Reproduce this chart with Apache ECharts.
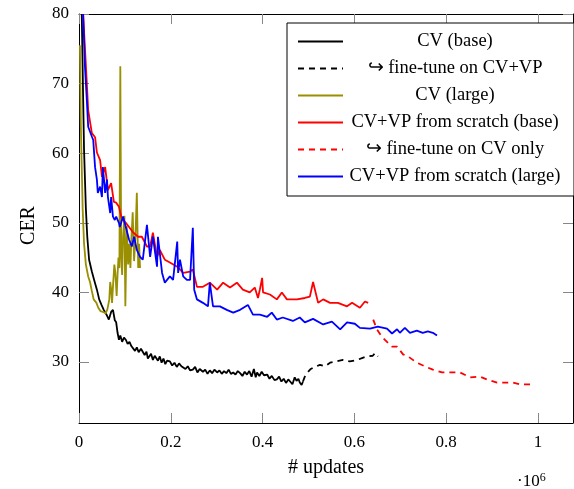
<!DOCTYPE html>
<html>
<head>
<meta charset="utf-8">
<script src="https://cdn.jsdelivr.net/npm/echarts@6/dist/echarts.min.js"></script>
<style>
html,body{margin:0;padding:0;background:#fff;}
#chart{width:574px;height:489px;}
</style>
</head>
<body>
<div id="chart"></div>
<script>
// x in units of 10^6 updates, y = CER
const xTicks = [0, 0.2, 0.4, 0.6, 0.8, 1];
const yTicks = [30, 40, 50, 60, 70, 80];

const cvBase = [
[0.006,80],[0.009,68],[0.011,60.5],[0.015,52],[0.018,48],[0.022,44.7],[0.028,43],[0.033,41.8],
[0.039,40.4],[0.044,39],[0.049,38.2],[0.054,37.5],[0.060,36.8],[0.065,36.1],[0.070,37.2],[0.074,37.5],
[0.078,36.0],[0.081,35.7],[0.084,34.2],[0.087,33.2],[0.090,33.8],[0.094,32.9],[0.098,33.5],[0.102,33.2],
[0.106,32.6],[0.110,32.9],[0.114,32.3],[0.118,32.2],[0.122,31.6],[0.126,32.1],[0.130,31.4],[0.135,31.9],
[0.139,31.8],[0.143,31.0],[0.147,31.5],[0.150,30.5],[0.153,30.8],[0.157,31.2],[0.161,30.3],[0.165,30.9],
[0.168,30.8],[0.172,30.2],[0.176,30.8],[0.180,29.9],[0.184,30.5],[0.188,29.7],[0.192,30.2],[0.198,30.1],
[0.203,29.5],[0.208,29.9],[0.213,29.3],[0.218,29.8],[0.223,29.4],[0.227,29.6],[0.232,29.0],[0.237,29.4],
[0.242,28.8],[0.248,28.9],[0.253,29.3],[0.258,28.5],[0.263,29.0],[0.270,28.6],[0.275,28.9],[0.280,28.3],
[0.285,28.8],[0.290,28.4],[0.295,28.9],[0.301,28.5],[0.306,28.8],[0.311,28.3],[0.316,28.7],[0.321,28.4],
[0.326,28.9],[0.331,28.3],[0.336,28.5],[0.341,28.2],[0.346,28.7],[0.351,28.4],[0.356,28.0],[0.361,28.6],
[0.366,28.2],[0.371,28.7],[0.376,27.9],[0.381,29.0],[0.385,27.8],[0.388,28.5],[0.393,28.0],[0.398,28.6],
[0.403,28.1],[0.410,28.2],[0.415,27.6],[0.420,28.0],[0.426,27.4],[0.431,27.5],[0.436,27.9],[0.441,27.2],
[0.446,27.6],[0.451,27.0],[0.456,27.5],[0.460,27.2],[0.465,26.8],[0.470,27.8],[0.474,27.3],[0.478,27.6],
[0.481,27.05],[0.485,26.7],[0.488,27.2]
];
const cvBaseFt = [
[0.488,27.2],[0.492,27.9],[0.499,28.6],[0.505,29.0],[0.514,29.3],[0.525,29.6],[0.536,29.4],[0.547,29.9],
[0.560,30.1],[0.575,30.3],[0.590,30.1],[0.606,30.3],[0.618,30.6],[0.627,30.8],[0.640,30.9],[0.645,31.3],[0.651,30.8]
];
const cvLarge = [
[0.002,75.5],[0.003,70],[0.004,64],[0.006,58],[0.008,52],[0.011,47],[0.015,44],[0.020,42.3],[0.024,41.5],
[0.028,40.2],[0.032,39.0],[0.038,38.5],[0.042,37.8],[0.047,37.3],[0.052,37.2],[0.058,37.0],[0.062,37.6],
[0.066,39.0],[0.068,41.5],[0.070,40.5],[0.072,38.5],[0.074,40.8],[0.077,44.0],[0.079,43.0],[0.082,39.5],
[0.084,42.5],[0.086,45.0],[0.088,43.5],[0.090,72.5],[0.092,45.0],[0.094,42.5],[0.096,48.0],[0.099,51.0],
[0.101,38.0],[0.104,49.5],[0.107,44.0],[0.109,47.0],[0.112,43.5],[0.114,47.5],[0.117,51.5],[0.120,44.5],
[0.123,48.0],[0.126,54.3],[0.129,43.5],[0.131,47.0],[0.133,43.5]
];
const cvvpBase = [
[0.009,80],[0.017,70.1],[0.020,66.2],[0.028,62.9],[0.035,62.3],[0.039,60.1],[0.046,59.0],[0.050,56.6],
[0.057,58.0],[0.063,54.7],[0.070,55.7],[0.076,53.0],[0.081,52.9],[0.087,52.3],[0.092,50.9],[0.096,50.4],
[0.102,50.0],[0.109,49.4],[0.118,48.6],[0.129,48.0],[0.137,48.0],[0.148,46.6],[0.155,46.6],[0.161,48.6],
[0.170,45.1],[0.176,46.1],[0.187,44.7],[0.198,44.3],[0.214,43.7],[0.227,42.8],[0.242,43.0],[0.248,43.3],
[0.257,40.8],[0.270,40.8],[0.285,41.4],[0.301,40.4],[0.314,41.4],[0.329,40.7],[0.344,41.4],[0.357,40.4],
[0.372,40.0],[0.383,40.7],[0.390,39.2],[0.394,40.4],[0.399,42.1],[0.401,40.0],[0.416,39.7],[0.431,39.0],
[0.442,40.0],[0.453,39.0],[0.475,39.0],[0.492,39.2],[0.503,39.4],[0.510,41.5],[0.521,38.5],[0.532,39.0],
[0.547,38.5],[0.564,38.5],[0.584,38.0],[0.595,38.5],[0.612,37.8],[0.623,38.7],[0.630,38.5]
];
const cvvpBaseFt = [
[0.641,36.1],[0.649,34.7],[0.660,33.6],[0.671,32.9],[0.682,32.2],[0.693,32.2],[0.706,31.1],[0.717,30.8],
[0.736,29.9],[0.760,29.2],[0.771,28.9],[0.791,28.5],[0.808,28.5],[0.830,28.5],[0.852,27.8],[0.874,27.9],
[0.889,27.5],[0.911,27.05],[0.924,27.05],[0.946,27.05],[0.961,26.8],[0.983,26.8],[0.989,27.05]
];
const cvvpLarge = [
[0.009,80],[0.013,72.4],[0.017,67.7],[0.020,63.8],[0.028,62.4],[0.031,61.9],[0.035,58.0],[0.039,56.2],
[0.041,54.3],[0.046,55.2],[0.050,53.7],[0.052,58.0],[0.057,54.3],[0.061,56.2],[0.063,53.7],[0.068,51.4],
[0.070,53.7],[0.074,50.9],[0.078,50.4],[0.081,50.9],[0.087,50.0],[0.089,49.4],[0.096,50.9],[0.102,49.4],
[0.109,47.6],[0.115,46.6],[0.120,48.0],[0.126,46.1],[0.133,45.1],[0.139,44.7],[0.148,49.7],[0.155,45.1],
[0.161,48.0],[0.170,43.7],[0.172,48.0],[0.181,42.8],[0.187,41.4],[0.198,42.3],[0.205,41.8],[0.214,47.3],
[0.216,42.8],[0.220,44.7],[0.227,42.3],[0.235,41.8],[0.242,41.8],[0.248,49.3],[0.251,40.4],[0.257,39.0],
[0.270,38.5],[0.281,38.0],[0.285,41.4],[0.292,38.0],[0.307,38.0],[0.322,37.5],[0.336,37.1],[0.351,37.5],
[0.368,38.2],[0.379,36.8],[0.394,36.8],[0.410,36.5],[0.420,37.1],[0.431,36.1],[0.444,36.4],[0.466,35.9],
[0.481,36.4],[0.492,35.7],[0.510,36.2],[0.532,35.4],[0.551,35.8],[0.569,34.7],[0.584,35.7],[0.601,35.5],
[0.612,34.9],[0.634,34.8],[0.651,35.1],[0.671,34.8],[0.682,34.1],[0.693,34.7],[0.699,34.2],[0.710,34.9],
[0.721,34.2],[0.736,34.5],[0.749,34.2],[0.760,34.4],[0.771,34.2],[0.780,33.8]
];

const FONT = 'Liberation Serif';
const chart = echarts.init(document.getElementById('chart'), null, {renderer: 'canvas'});

function mkSeries(name, data, color, dashed) {
  return {
    name: name, type: 'line', data: data, showSymbol: false, symbol: 'none',
    clip: true, animation: false,
    lineStyle: {color: color, width: 1.8, type: dashed ? [6, 5] : 'solid'},
    itemStyle: {color: color}
  };
}

const axisCommon = {
  axisLine: {show: true, onZero: false, lineStyle: {color: '#000', width: 1}},
  splitLine: {show: false}
};

chart.setOption({
  backgroundColor: '#fff',
  animation: false,
  grid: {left: 79, top: 14, right: 1, bottom: 66},
  xAxis: [
    Object.assign({
      type: 'value', min: 0, max: 1.0763, position: 'bottom',
      name: '# updates', nameLocation: 'middle', nameGap: 35,
      nameTextStyle: {fontFamily: FONT, fontSize: 20, color: '#000'},
      axisTick: {show: true, inside: true, length: 10, customValues: xTicks, lineStyle: {color: '#888'}},
      axisLabel: {show: true, customValues: xTicks, margin: 11, fontFamily: FONT, fontSize: 17, color: '#000',
        formatter: v => String(v)}
    }, axisCommon),
    Object.assign({
      type: 'value', min: 0, max: 1.0763, position: 'top',
      axisTick: {show: true, inside: true, length: 10, customValues: xTicks, lineStyle: {color: '#888'}},
      axisLabel: {show: false}
    }, axisCommon)
  ],
  yAxis: [
    Object.assign({
      type: 'value', min: 21.24, max: 80, position: 'left',
      name: 'CER', nameLocation: 'middle', nameGap: 40, nameRotate: 90,
      nameTextStyle: {fontFamily: FONT, fontSize: 20, color: '#000', padding: [0, 14, 0, 0]},
      axisTick: {show: true, inside: true, length: 10, customValues: yTicks, lineStyle: {color: '#888'}},
      axisLabel: {show: true, customValues: yTicks, margin: 10, fontFamily: FONT, fontSize: 17, color: '#000'}
    }, axisCommon),
    Object.assign({
      type: 'value', min: 21.24, max: 80, position: 'right',
      axisTick: {show: true, inside: true, length: 10, customValues: yTicks, lineStyle: {color: '#888'}},
      axisLabel: {show: false}
    }, axisCommon)
  ],
  legend: {
    orient: 'vertical', left: 287, top: 23,
    backgroundColor: '#fff', borderColor: '#000', borderWidth: 1, borderRadius: 0,
    padding: [9, 12, 10, 10],
    itemWidth: 45, itemHeight: 14, itemGap: 8,
    selectedMode: false,
    itemStyle: {color: 'rgba(0,0,0,0)', borderWidth: 0, opacity: 0},
    formatter: n => '{t|' + n + '}',
    textStyle: {
      rich: {t: {width: 214, align: 'center', fontFamily: FONT, fontSize: 18.5, lineHeight: 18, color: '#000'}}
    },
    data: ['CV (base)', '↪ fine-tune on CV+VP', 'CV (large)', 'CV+VP from scratch (base)', '↪ fine-tune on CV only', 'CV+VP from scratch (large)']
  },
  graphic: [{
    type: 'text', left: 517, top: 472,
    style: {
      text: '{a|·10}{b|6}',
      rich: {a: {fontFamily: FONT, fontSize: 17, fill: '#000'}, b: {fontFamily: FONT, fontSize: 12, fill: '#000', verticalAlign: 'top', padding: [0, 0, 8, 0]}}
    }
  }],
  series: [
    mkSeries('CV (base)', cvBase, '#000000', false),
    mkSeries('↪ fine-tune on CV+VP', cvBaseFt, '#000000', true),
    mkSeries('CV (large)', cvLarge, '#998f00', false),
    mkSeries('CV+VP from scratch (base)', cvvpBase, '#ff0000', false),
    mkSeries('↪ fine-tune on CV only', cvvpBaseFt, '#ff0000', true),
    mkSeries('CV+VP from scratch (large)', cvvpLarge, '#0000ff', false)
  ]
});
</script>
</body>
</html>
